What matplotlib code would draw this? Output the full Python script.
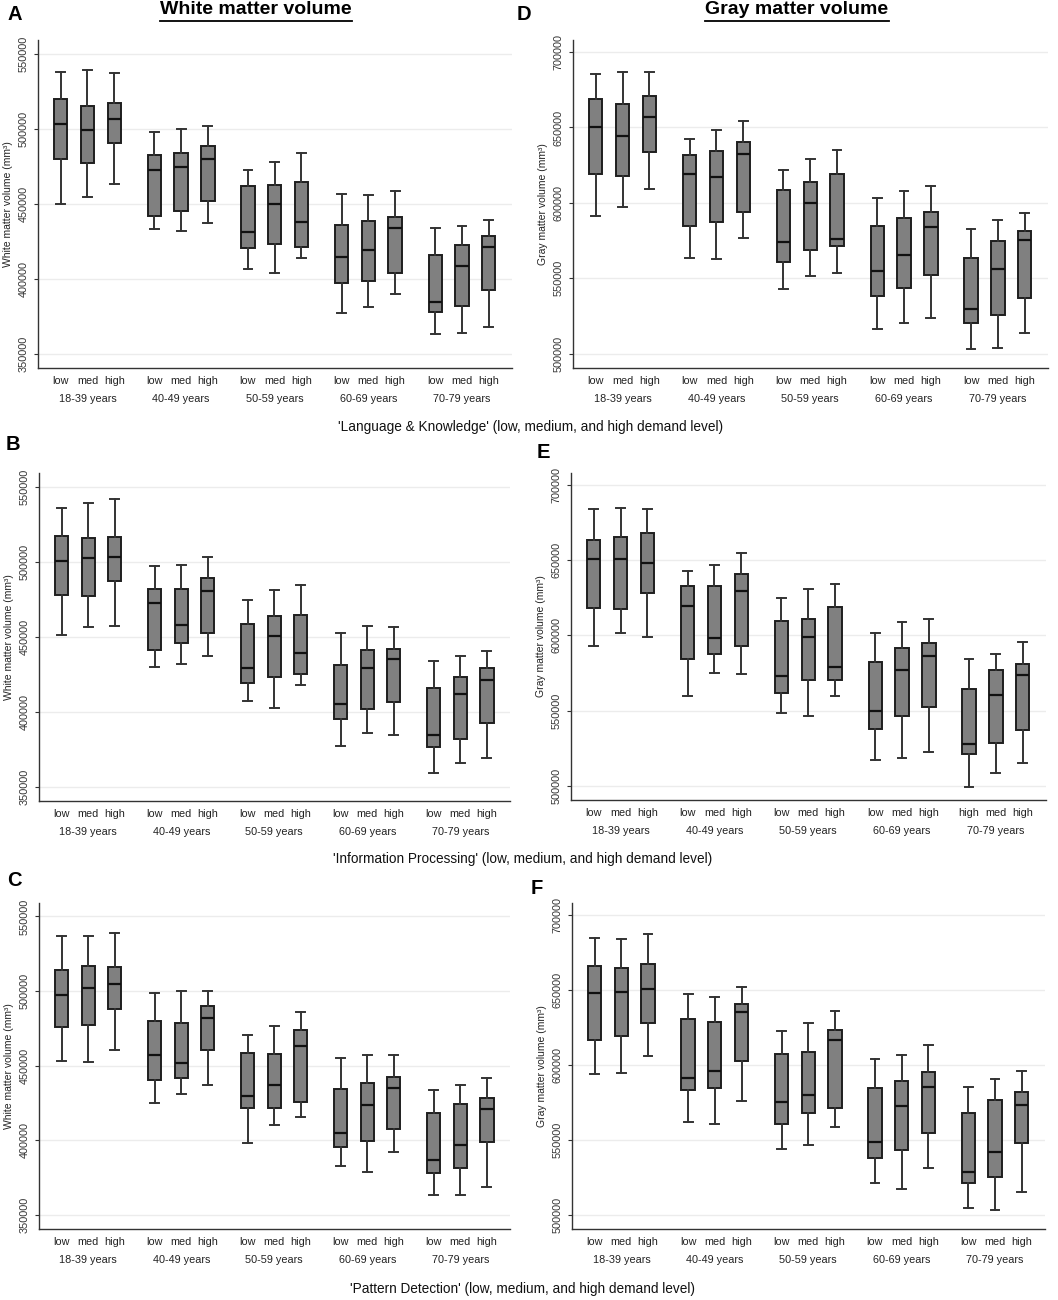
import numpy as np
import matplotlib
matplotlib.use("Agg")
import matplotlib.pyplot as plt
from matplotlib.lines import Line2D

plt.rcParams['font.family'] = ['Liberation Sans', 'DejaVu Sans']

# --- data ---
AGE_GROUPS = ["18-39 years", "40-49 years", "50-59 years", "60-69 years", "70-79 years"]
LEVELS = ["low", "med", "high"]
LEVELS_E_LAST = ["high", "med", "high"]   # as printed in panel E, 70-79 group

CAPTIONS = [
    "'Language & Knowledge' (low, medium, and high demand level)",
    "'Information Processing' (low, medium, and high demand level)",
    "'Pattern Detection' (low, medium, and high demand level)",
]

# white matter, panel A (Language & Knowledge)
A_HI  = [537800, 539300, 537300, 497800, 500000, 502000, 472200, 477600, 484000, 456500, 456000, 458200, 433600, 435300, 439300]
A_Q3  = [519600, 515300, 517100, 482200, 483600, 488200, 461600, 462200, 464700, 435600, 438200, 440900, 415600, 422700, 428200]
A_MED = [503100, 499300, 506200, 472400, 474700, 479600, 431100, 449600, 437800, 414200, 418900, 433600, 384500, 408200, 421100]
A_Q1  = [479600, 477100, 490400, 441800, 444900, 451600, 420200, 422900, 421300, 397100, 398700, 404000, 377600, 382000, 392700]
A_LO  = [449800, 454200, 463100, 433300, 432000, 437300, 406200, 403800, 413600, 376900, 381100, 389800, 363100, 363800, 368000]

# white matter, panel B (Information Processing)
B_HI  = [536000, 539300, 542000, 496900, 497800, 502900, 474200, 481100, 484500, 452500, 457100, 456200, 433800, 436900, 440400]
B_Q3  = [516700, 515600, 516200, 482000, 481600, 489300, 458200, 463600, 464200, 431100, 441100, 441800, 416000, 422900, 429400]
B_MED = [500400, 502200, 502900, 472700, 458000, 480700, 429300, 450700, 439100, 405400, 428900, 435100, 384500, 411800, 421100]
B_Q1  = [477600, 477100, 487300, 440900, 445800, 452500, 419100, 423300, 425300, 394900, 401600, 406300, 376500, 382000, 392200]
B_LO  = [451100, 456200, 457300, 429800, 431600, 437100, 407100, 402700, 417800, 377300, 385600, 384500, 359400, 366000, 369300]

# white matter, panel C (Pattern Detection)
C_HI  = [536900, 537100, 538900, 498900, 499800, 500000, 470400, 476700, 486000, 454900, 456900, 457300, 433800, 436900, 442000]
C_Q3  = [514000, 516700, 516000, 480200, 478400, 490200, 458400, 457800, 473600, 434200, 438500, 442500, 418200, 424200, 428500]
C_MED = [497300, 501800, 504400, 457100, 451600, 482200, 429800, 436900, 463300, 404700, 423600, 435300, 386500, 396700, 420700]
C_Q1  = [476200, 477300, 487800, 440200, 441800, 460700, 421300, 421300, 425800, 395600, 399300, 407600, 378200, 381400, 399100]
C_LO  = [452900, 452700, 460200, 425100, 430700, 437100, 398000, 410000, 415300, 382700, 378500, 391800, 363600, 363600, 368500]

# gray matter, panel D (Language & Knowledge)
D_HI  = [685200, 686800, 686800, 642200, 648200, 654100, 621500, 629000, 635000, 603000, 607800, 611100, 582700, 588600, 593300]
D_Q3  = [669100, 665400, 670900, 631900, 634500, 640200, 608700, 614000, 619300, 584500, 589700, 594000, 563700, 575000, 581600]
D_MED = [650200, 644200, 656800, 619100, 617100, 632100, 574300, 599900, 575900, 555100, 565300, 584000, 529500, 556000, 575400]
D_Q1  = [618900, 618000, 633600, 584500, 587500, 593900, 561100, 568800, 571700, 538200, 543400, 552300, 520100, 525400, 536800]
D_LO  = [591100, 597300, 609400, 563700, 563100, 576700, 543200, 551200, 553400, 516300, 520100, 523800, 503100, 504000, 513700]

# gray matter, panel E (Information Processing)
E_HI  = [683900, 685000, 684100, 642500, 646800, 654600, 625100, 630900, 634200, 601300, 609200, 611000, 584100, 587300, 595800]
E_Q3  = [663500, 665300, 668000, 632900, 632900, 640900, 609400, 611200, 618800, 582300, 591300, 594900, 564400, 577000, 581200]
E_MED = [650600, 650600, 648300, 619700, 598000, 629800, 572700, 599100, 578800, 549700, 576700, 586600, 528000, 560400, 573600]
E_Q1  = [618100, 617700, 628200, 584300, 587900, 592800, 561800, 570300, 570300, 537600, 546100, 552100, 520800, 528200, 537100]
E_LO  = [592800, 601300, 599100, 560000, 575000, 574500, 548600, 546300, 560000, 517000, 518400, 522200, 499100, 508700, 515400]

# gray matter, panel F (Pattern Detection)
F_HI  = [684900, 683800, 687600, 647200, 645200, 652000, 622500, 627800, 636100, 604100, 606800, 613400, 585200, 590300, 595900]
F_Q3  = [665800, 664500, 667400, 630300, 628700, 640900, 607000, 608300, 623600, 584600, 589400, 595400, 567700, 576600, 581700]
F_MED = [648000, 648900, 650500, 591000, 595700, 635200, 575200, 580100, 616300, 548800, 572600, 585400, 528600, 541700, 573200]
F_Q1  = [616800, 619000, 628100, 583000, 584800, 602500, 560800, 567700, 571200, 537700, 543500, 554800, 521100, 525300, 548200]
F_LO  = [594100, 594600, 605700, 562100, 560600, 575900, 543700, 546800, 558400, 521500, 517500, 531300, 504400, 503300, 514900]

WM_TICKS = [350000, 400000, 450000, 500000, 550000]
GM_TICKS = [500000, 550000, 600000, 650000, 700000]

W, H = 1058, 1300
fig = plt.figure(figsize=(W / 100, H / 100), dpi=100)
fig.patch.set_facecolor("white")

# box positions: 3 levels per group, wider gap between groups
positions = [g * 3.5 + j for g in range(len(AGE_GROUPS)) for j in range(len(LEVELS))]


def px_axes(left, top, right, bottom):
    return fig.add_axes([left / W, 1 - bottom / H, (right - left) / W, (bottom - top) / H])


def panel(rect, hi, q3, med, q1, lo, ylim, yticks, ylabel, last_labels=LEVELS):
    ax = px_axes(*rect)
    stats = []
    for i in range(len(positions)):
        stats.append(dict(whishi=hi[i], q3=q3[i], med=med[i], q1=q1[i], whislo=lo[i], fliers=[]))
    ax.bxp(stats, positions=positions, widths=0.5, capwidths=0.33, patch_artist=True, showfliers=False,
           boxprops=dict(facecolor="#808080", edgecolor="#1e1e1e", linewidth=1.4),
           medianprops=dict(color="#111111", linewidth=1.6),
           whiskerprops=dict(color="#333333", linewidth=1.4),
           capprops=dict(color="#333333", linewidth=1.4))
    ax.set_xlim(-0.85, positions[-1] + 0.87)
    ax.set_ylim(*ylim)
    ax.set_yticks(yticks)
    ax.set_yticklabels([str(t) for t in yticks], rotation=90, va="center", fontsize=7.8, color="#333333")
    ax.tick_params(axis="y", length=3, width=0.8, pad=3.5, color="#333333")
    labels = LEVELS * (len(AGE_GROUPS) - 1) + list(last_labels)
    ax.set_xticks(positions)
    ax.set_xticklabels(labels, fontsize=7.8, color="#222222")
    ax.tick_params(axis="x", length=0, pad=6)
    for g, name in enumerate(AGE_GROUPS):
        ax.annotate(name, xy=(positions[g * 3 + 1], 0), xycoords=("data", "axes fraction"),
                    xytext=(0, -31), textcoords="offset pixels", ha="center", va="center",
                    fontsize=7.8, color="#222222")
    ax.set_ylabel(ylabel, fontsize=7.5, color="#222222", labelpad=4)
    for s in ["top", "right"]:
        ax.spines[s].set_visible(False)
    for s in ["left", "bottom"]:
        ax.spines[s].set_color("#333333")
        ax.spines[s].set_linewidth(1.0)
    ax.yaxis.grid(True, color="#ececec", linewidth=1.0)
    ax.set_axisbelow(True)
    ax.set_facecolor("white")
    return ax


WM_LIM = (340500, 559000)
GM_LIM = (490500, 708000)
WM_LABEL = "White matter volume (mm³)"
GM_LABEL = "Gray matter volume (mm³)"

panel((38, 40, 512, 368), A_HI, A_Q3, A_MED, A_Q1, A_LO, WM_LIM, WM_TICKS, WM_LABEL)
panel((39, 473, 510, 801), B_HI, B_Q3, B_MED, B_Q1, B_LO, WM_LIM, WM_TICKS, WM_LABEL)
panel((39, 903, 510, 1229), C_HI, C_Q3, C_MED, C_Q1, C_LO, WM_LIM, WM_TICKS, WM_LABEL)
panel((573, 40, 1048, 368), D_HI, D_Q3, D_MED, D_Q1, D_LO, GM_LIM, GM_TICKS, GM_LABEL)
panel((571, 473, 1046, 800), E_HI, E_Q3, E_MED, E_Q1, E_LO, GM_LIM, GM_TICKS, GM_LABEL, last_labels=LEVELS_E_LAST)
panel((572, 903, 1045, 1229), F_HI, F_Q3, F_MED, F_Q1, F_LO, GM_LIM, GM_TICKS, GM_LABEL)

# panel letters
for letter, x, y in [("A", 7, 14), ("D", 517, 14), ("B", 6, 445), ("E", 537, 452), ("C", 7, 881), ("F", 531, 888)]:
    fig.text(x / W, 1 - y / H, letter, fontsize=14.5, fontweight="bold", ha="left", va="center")

# column titles (underlined)
titles = []
for txt, cx in [("White matter volume", 256), ("Gray matter volume", 797)]:
    titles.append(fig.text(cx / W, 1 - 10 / H, txt, fontsize=14, fontweight="bold", ha="center", va="center"))

# captions under each row
for txt, cx, cy in zip(CAPTIONS, [531, 523, 522], [427, 859, 1289]):
    fig.text(cx / W, 1 - cy / H, txt, fontsize=9.8, ha="center", va="center", color="#111111")

fig.canvas.draw()
renderer = fig.canvas.get_renderer()
for t in titles:
    bb = t.get_window_extent(renderer)
    yline = 1 - 21 / H
    fig.add_artist(Line2D([bb.x0 / W, bb.x1 / W], [yline, yline], color="black", linewidth=1.3))

fig.savefig("out.png", dpi=100, facecolor="white")
